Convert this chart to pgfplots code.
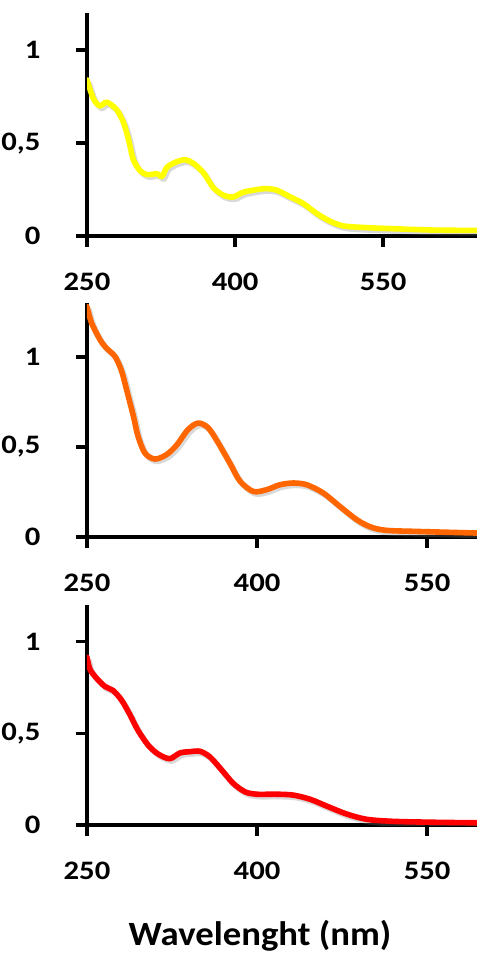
\documentclass[border=0pt]{standalone}
\usepackage{fontspec}
\setmainfont{Carlito}
\newfontfamily\tickfont[FakeStretch=1.15]{Carlito}
\newfontfamily\labfont[FakeStretch=1.08]{Carlito}
\usepackage{pgfplots}
\pgfplotsset{compat=1.18}

\definecolor{cyel}{RGB}{255,255,0}
\definecolor{corange}{RGB}{255,102,0}
\definecolor{cred}{RGB}{255,0,0}

\pgfplotsset{
  spec/.style={
    scale only axis, width=292.5pt,
    axis lines=left,
    axis line style={-, line width=2.6pt, black},
    xtick pos=bottom, ytick pos=left,
    tick align=outside,
    major tick length=8.25pt,
    major tick style={draw=black, line width=2.6pt},
    xmin=250, ymin=0,
    xtick={250,400,550}, xticklabels={250,400,550},
    ytick={0,0.5,1}, yticklabels={0,{0,5},1},
    ticklabel style={font=\tickfont\bfseries\fontsize{20}{21}\selectfont},
    yticklabel style={anchor=east, inner sep=0pt, xshift=-26.5pt},
    xticklabel style={anchor=north, inner sep=0pt, yshift=-19pt},
  },
  shadow/.style={gray, opacity=0.3, line width=4.2pt, smooth, xshift=1.5pt, yshift=-1.8pt},
  curve/.style={line width=4.2pt, smooth, line join=round, line cap=round},
}
\tikzset{tk/.style={line width=2.6pt, black}}

\begin{document}
\begin{tikzpicture}
\useasboundingbox (0,0) rectangle (357.75pt,-715.5pt);

% --- top panel: yellow ---
\begin{axis}[spec, at={(65.25pt,-177pt)}, anchor=south west,
  height=167.25pt, xmax=645, ymax=1.2]
\addplot[shadow] coordinates {
(250,0.84) (256.4,0.74) (263,0.70) (270,0.72) (280,0.68) (287,0.61) (292,0.52)
(297,0.41) (304,0.35) (311,0.33) (321,0.335) (326,0.32) (331,0.37) (341,0.40)
(350,0.41) (358,0.39) (368,0.34) (378,0.26) (388,0.22) (398,0.21) (408,0.235)
(422,0.25) (432,0.255) (442,0.247) (456,0.21) (469,0.175) (483,0.12) (496,0.08)
(510,0.054) (534,0.045) (567,0.038) (601,0.032) (645,0.03)};
\addplot[curve, cyel] coordinates {
(250,0.84) (256.4,0.74) (263,0.70) (270,0.72) (280,0.68) (287,0.61) (292,0.52)
(297,0.41) (304,0.35) (311,0.33) (321,0.335) (326,0.32) (331,0.37) (341,0.40)
(350,0.41) (358,0.39) (368,0.34) (378,0.26) (388,0.22) (398,0.21) (408,0.235)
(422,0.25) (432,0.255) (442,0.247) (456,0.21) (469,0.175) (483,0.12) (496,0.08)
(510,0.054) (534,0.045) (567,0.038) (601,0.032) (645,0.03)};
\end{axis}

% --- middle panel: orange ---
\begin{axis}[spec, at={(65.25pt,-402.75pt)}, anchor=south west,
  height=175.5pt, xmax=594, ymax=1.3]
\addplot[shadow] coordinates {
(250,1.28) (254,1.19) (261.5,1.096) (267,1.05) (274.7,1.003) (280.6,0.92)
(286.5,0.78) (291,0.67) (295,0.56) (301,0.467) (309.7,0.433) (320,0.457)
(329,0.51) (339,0.596) (348,0.633) (357,0.606) (366,0.52) (376,0.41) (385,0.31)
(396.7,0.253) (408.5,0.263) (420,0.29) (432,0.30) (444,0.29) (458.5,0.244)
(473,0.17) (488,0.096) (500,0.056) (514,0.037) (541,0.031) (570,0.026) (594,0.022)};
\addplot[curve, corange] coordinates {
(250,1.28) (254,1.19) (261.5,1.096) (267,1.05) (274.7,1.003) (280.6,0.92)
(286.5,0.78) (291,0.67) (295,0.56) (301,0.467) (309.7,0.433) (320,0.457)
(329,0.51) (339,0.596) (348,0.633) (357,0.606) (366,0.52) (376,0.41) (385,0.31)
(396.7,0.253) (408.5,0.263) (420,0.29) (432,0.30) (444,0.29) (458.5,0.244)
(473,0.17) (488,0.096) (500,0.056) (514,0.037) (541,0.031) (570,0.026) (594,0.022)};
\end{axis}

% --- bottom panel: red ---
\begin{axis}[spec, at={(65.25pt,-618.75pt)}, anchor=south west,
  height=165pt, xmax=594, ymax=1.2]
\addplot[shadow] coordinates {
(250,0.915) (252.6,0.85) (258.5,0.80) (266,0.755) (273,0.734) (280.6,0.68)
(288,0.60) (295,0.516) (304,0.435) (313,0.386) (323,0.362) (332,0.393)
(341,0.40) (349.7,0.402) (358.5,0.371) (368.8,0.30) (379,0.227) (389.4,0.181)
(399.7,0.168) (417.4,0.168) (432,0.163) (447,0.14) (461.5,0.103) (479,0.06)
(496.8,0.031) (520,0.02) (555.6,0.015) (594,0.012)};
\addplot[curve, cred] coordinates {
(250,0.915) (252.6,0.85) (258.5,0.80) (266,0.755) (273,0.734) (280.6,0.68)
(288,0.60) (295,0.516) (304,0.435) (313,0.386) (323,0.362) (332,0.393)
(341,0.40) (349.7,0.402) (358.5,0.371) (368.8,0.30) (379,0.227) (389.4,0.181)
(399.7,0.168) (417.4,0.168) (432,0.163) (447,0.14) (461.5,0.103) (479,0.06)
(496.8,0.031) (520,0.02) (555.6,0.015) (594,0.012)};
\end{axis}

% tick marks (axis decoration), panel 1
\foreach \x in {65.25,176.33,287.4} \draw[tk] (\x pt,-177pt) -- (\x pt,-185.25pt);
\foreach \y in {-177,-107.31,-37.63} \draw[tk] (65.25pt,\y pt) -- (57pt,\y pt);
% panel 2
\foreach \x in {65.25,192.79,320.34} \draw[tk] (\x pt,-402.75pt) -- (\x pt,-411pt);
\foreach \y in {-402.75,-335.25,-267.75} \draw[tk] (65.25pt,\y pt) -- (57pt,\y pt);
% panel 3
\foreach \x in {65.25,192.79,320.34} \draw[tk] (\x pt,-618.75pt) -- (\x pt,-627pt);
\foreach \y in {-618.75,-550,-481.25} \draw[tk] (65.25pt,\y pt) -- (57pt,\y pt);

\node[anchor=base, font=\labfont\bfseries\fontsize{25.5}{26}\selectfont]
  at (195pt,-708.75pt) {Wavelenght (nm)};
\end{tikzpicture}
\end{document}
